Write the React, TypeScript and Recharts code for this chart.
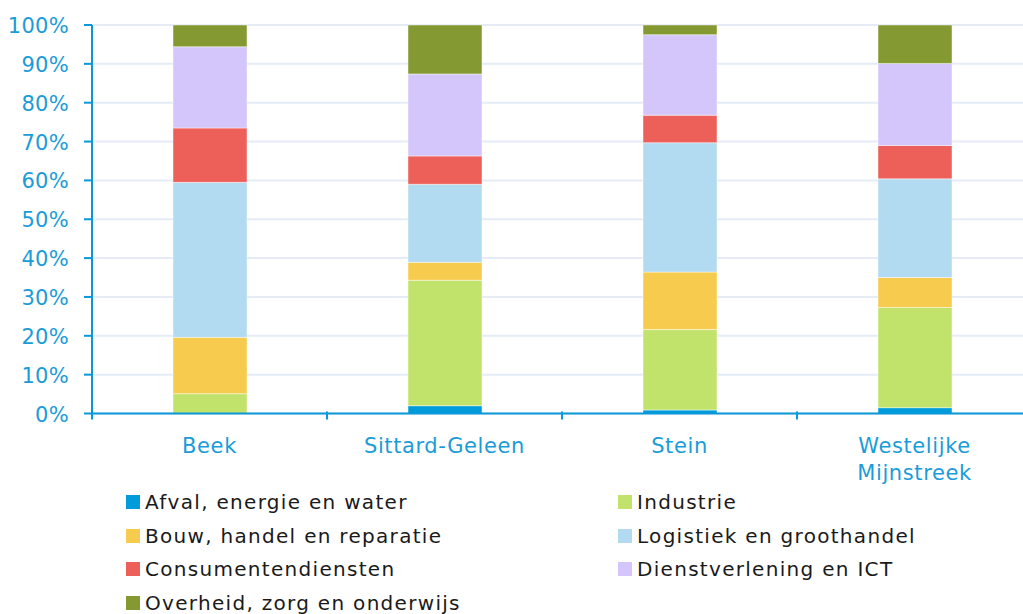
import React from 'react';
import { BarChart, Bar, XAxis, YAxis, CartesianGrid } from 'recharts';

const categories = ['Beek', 'Sittard-Geleen', 'Stein', 'Westelijke Mijnstreek'];
const afval = [0, 2.0, 0.9, 1.5];
const industrie = [5.1, 32.3, 20.7, 25.8];
const bouw = [14.5, 4.6, 14.8, 7.7];
const logistiek = [39.9, 20.1, 33.3, 25.4];
const consumenten = [14.0, 7.3, 7.1, 8.6];
const dienst = [20.9, 21.1, 20.7, 21.1];
const overheid = [5.6, 12.6, 2.5, 9.9];
const yTicks = [0, 10, 20, 30, 40, 50, 60, 70, 80, 90, 100];

const series = [
  { key: 'afval', name: 'Afval, energie en water', values: afval, color: '#009bdb' },
  { key: 'industrie', name: 'Industrie', values: industrie, color: '#c1e36b' },
  { key: 'bouw', name: 'Bouw, handel en reparatie', values: bouw, color: '#f7cb4d' },
  { key: 'logistiek', name: 'Logistiek en groothandel', values: logistiek, color: '#b2daf0' },
  { key: 'consumenten', name: 'Consumentendiensten', values: consumenten, color: '#ed605a' },
  { key: 'dienst', name: 'Dienstverlening en ICT', values: dienst, color: '#d4c5fa' },
  { key: 'overheid', name: 'Overheid, zorg en onderwijs', values: overheid, color: '#859933' },
];

const data = categories.map((c, i) => {
  const row: any = { name: c };
  series.forEach((s) => (row[s.key] = s.values[i]));
  return row;
});

const AXIS = '#0a98d8';
const LABEL = '#1a9cd8';
const FONT = '"DejaVu Sans", "Liberation Sans", Arial, sans-serif';

const XTick = (props: any) => {
  const { x, y, payload } = props;
  const lines = String(payload.value).split(' ');
  const off = payload.offset ?? 0;
  return (
    <g>
      <line x1={x - off} x2={x - off} y1={y - 10} y2={y - 2} stroke={AXIS} strokeWidth={2} />
      <text x={x} y={y} textAnchor="middle" fill={LABEL} fontSize={21} letterSpacing={0.6} fontFamily={FONT}>
        {lines.map((l, i) => (
          <tspan key={i} x={x} dy={i === 0 ? 31 : 27}>
            {l}
          </tspan>
        ))}
      </text>
    </g>
  );
};

const YTick = (props: any) => {
  const { x, y, payload } = props;
  return (
    <text x={x} y={y} dy={8} textAnchor="end" fill={LABEL} fontSize={21} letterSpacing={0.3} fontFamily={FONT}>
      {payload.value}%
    </text>
  );
};

export default function App() {
  return (
    <div style={{ position: 'absolute', left: 0, top: 0, width: 1023, height: 614, overflow: 'hidden', background: '#fff' }}>
      <BarChart width={1040} height={500} data={data} margin={{ top: 25, right: 8, left: 0, bottom: 0 }}>
        <CartesianGrid vertical={false} stroke="#e5ecf6" strokeWidth={2} />
        <XAxis
          dataKey="name"
          tickLine={false}
          axisLine={{ stroke: AXIS, strokeWidth: 2 }}
          tick={<XTick />}
          height={86.5}
          interval={0}
        />
        <YAxis
          domain={[0, 100]}
          ticks={yTicks}
          width={92}
          tickSize={8}
          tickMargin={15}
          axisLine={{ stroke: AXIS, strokeWidth: 2 }}
          tickLine={{ stroke: AXIS, strokeWidth: 2 }}
          tick={<YTick />}
          interval={0}
        />
        {series.map((s) => (
          <Bar
            key={s.key}
            dataKey={s.key}
            name={s.name}
            stackId="a"
            fill={s.color}
            barSize={74}
            stroke="rgba(255,255,255,0.45)"
            strokeWidth={1}
            isAnimationActive={false}
          />
        ))}
      </BarChart>
      <div
        style={{
          position: 'absolute',
          left: 0,
          top: 486,
          width: 1023,
          fontFamily: FONT,
          fontSize: 20,
          letterSpacing: 1.3,
          color: '#1a1a1a',
          lineHeight: '33.5px',
        }}
      >
        {series.map((s, i) => (
          <div
            key={s.key}
            style={{
              position: 'absolute',
              left: i % 2 === 0 ? 126 : 618,
              top: Math.floor(i / 2) * 33.5,
              whiteSpace: 'nowrap',
            }}
          >
            <span style={{ display: 'inline-block', width: 14, height: 14, background: s.color, marginRight: 5 }} />
            {s.name}
          </div>
        ))}
      </div>
    </div>
  );
}
